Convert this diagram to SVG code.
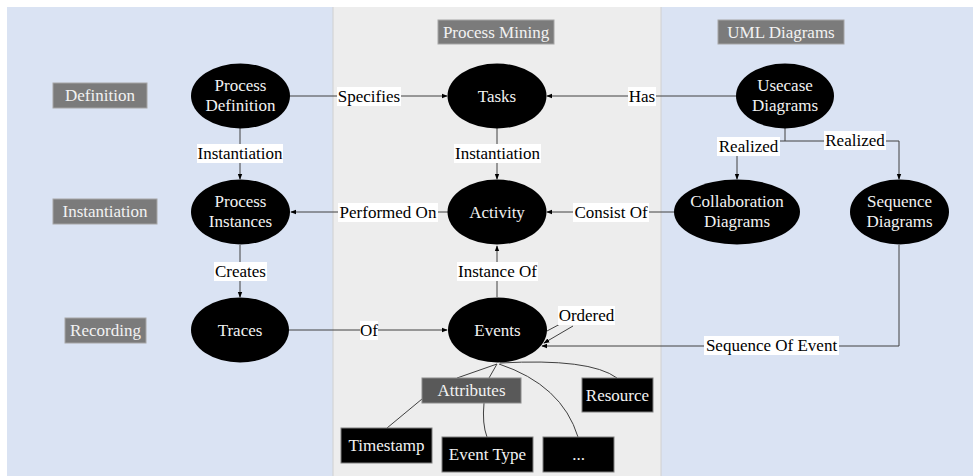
<svg xmlns="http://www.w3.org/2000/svg" width="973" height="476" viewBox="0 0 973 476" font-family="'Liberation Serif', 'DejaVu Serif', serif">
  <style>
    .lane-blue { fill: #dae3f3; }
    .lane-grey { fill: #ededed; }
    .lane-edge { stroke: #d0d0d0; stroke-width: 1; }
    .node ellipse { fill: #000; }
    text { font-family: 'Liberation Serif', 'DejaVu Serif', serif; font-size: 17px; text-anchor: middle; }
    .node text, .tag text, .attr text { fill: #f2f2f2; }
    .tag rect { fill: #7b7b7b; stroke: #a6a6a6; stroke-width: 1; }
    .attr rect { fill: #000; stroke: #7f7f7f; stroke-width: 1; }
    .edge { fill: none; stroke: #404040; stroke-width: 1; }
    .edge-label rect { fill: #fff; }
    .edge-label text { fill: #000; }
  </style>
  <defs>
    <marker id="arrow" viewBox="0 0 8 8" refX="7" refY="4" markerWidth="6" markerHeight="6" orient="auto" markerUnits="userSpaceOnUse">
      <path d="M0,1 L8,4 L0,7 z" fill="#000"/>
    </marker>
  </defs>

  <!-- swim lanes -->
  <g id="lanes">
    <rect x="0" y="0" width="973" height="476" fill="#fff"/>
    <rect class="lane-blue" x="7" y="7" width="326" height="469"/>
    <rect class="lane-grey" x="333" y="7" width="328" height="469"/>
    <rect class="lane-blue" x="661" y="7" width="312" height="469"/>
    <line class="lane-edge" x1="333" y1="7" x2="333" y2="476"/>
    <line class="lane-edge" x1="661" y1="7" x2="661" y2="476"/>
  </g>

  <!-- lane and row headings -->
  <g id="tag-process-mining" class="tag"><rect x="438" y="20" width="116" height="24"/><text x="496" y="38">Process Mining</text></g>
  <g id="tag-uml" class="tag"><rect x="718" y="20" width="126" height="24"/><text x="781" y="38">UML Diagrams</text></g>
  <g id="tag-definition" class="tag"><rect x="53" y="83" width="94" height="25"/><text x="100" y="101">Definition</text></g>
  <g id="tag-instantiation" class="tag"><rect x="53" y="199" width="104" height="25"/><text x="105" y="217">Instantiation</text></g>
  <g id="tag-recording" class="tag"><rect x="65" y="318" width="81" height="25"/><text x="105.5" y="336">Recording</text></g>

  <!-- connectors -->
  <g id="connectors">
    <line class="edge" x1="290" y1="96" x2="447" y2="96" marker-end="url(#arrow)"/>
    <line class="edge" x1="736" y1="96" x2="547" y2="96" marker-end="url(#arrow)"/>
    <line class="edge" x1="240" y1="128" x2="240" y2="179" marker-end="url(#arrow)"/>
    <line class="edge" x1="497" y1="128" x2="497" y2="179" marker-end="url(#arrow)"/>
    <line class="edge" x1="448" y1="212" x2="291" y2="212" marker-end="url(#arrow)"/>
    <line class="edge" x1="674" y1="212" x2="547" y2="212" marker-end="url(#arrow)"/>
    <line class="edge" x1="240" y1="245" x2="240" y2="297" marker-end="url(#arrow)"/>
    <line class="edge" x1="497" y1="297" x2="497" y2="246" marker-end="url(#arrow)"/>
    <line class="edge" x1="289" y1="330" x2="447" y2="330" marker-end="url(#arrow)"/>
    <polyline class="edge" points="785,128 785,141 737,141 737,179" marker-end="url(#arrow)"/>
    <polyline class="edge" points="785,141 899,141 899,179" marker-end="url(#arrow)"/>
    <polyline class="edge" points="899,245 899,346 542,346" marker-end="url(#arrow)"/>
    <polyline class="edge" points="547,331 562,323"/>
    <polyline class="edge" points="573,326 544,343" marker-end="url(#arrow)"/>
    <!-- event attribute links -->
    <path class="edge" d="M497,364 L457,378"/>
    <path class="edge" d="M497,364 L489,378"/>
    <path class="edge" d="M500,363 Q590,358 617,378"/>
    <path class="edge" d="M499,364 Q562,385 578,437"/>
    <path class="edge" d="M422,399 L387,428"/>
    <path class="edge" d="M484,403 Q482,424 487,437"/>
  </g>

  <!-- connector labels -->
  <g id="edge-labels">
    <g class="edge-label"><rect x="337" y="87" width="64" height="19"/><text x="369" y="102">Specifies</text></g>
    <g class="edge-label"><rect x="628" y="87" width="28" height="19"/><text x="642" y="102">Has</text></g>
    <g class="edge-label"><rect x="197" y="144" width="86" height="19"/><text x="240" y="159">Instantiation</text></g>
    <g class="edge-label"><rect x="454" y="144" width="87" height="19"/><text x="497.5" y="159">Instantiation</text></g>
    <g class="edge-label"><rect x="717" y="137" width="63" height="19"/><text x="748.5" y="152">Realized</text></g>
    <g class="edge-label"><rect x="824" y="131" width="62" height="19"/><text x="855" y="146">Realized</text></g>
    <g class="edge-label"><rect x="338" y="203" width="100" height="19"/><text x="388" y="218">Performed On</text></g>
    <g class="edge-label"><rect x="573" y="203" width="76" height="19"/><text x="611" y="218">Consist Of</text></g>
    <g class="edge-label"><rect x="214" y="262" width="53" height="19"/><text x="240.5" y="277">Creates</text></g>
    <g class="edge-label"><rect x="457" y="262" width="81" height="19"/><text x="497.5" y="277">Instance Of</text></g>
    <g class="edge-label"><rect x="360" y="321" width="18" height="19"/><text x="369" y="336">Of</text></g>
    <g class="edge-label"><rect x="558" y="306" width="57" height="19"/><text x="586.5" y="321">Ordered</text></g>
    <g class="edge-label"><rect x="704" y="336" width="135" height="19"/><text x="771.5" y="351">Sequence Of Event</text></g>
  </g>

  <!-- concept nodes -->
  <g id="node-process-definition" class="node"><ellipse cx="240.5" cy="96" rx="49.5" ry="32.5"/><text x="240.5" y="91">Process</text><text x="240.5" y="111">Definition</text></g>
  <g id="node-tasks" class="node"><ellipse cx="497" cy="96" rx="49.5" ry="32.5"/><text x="497" y="102">Tasks</text></g>
  <g id="node-usecase" class="node"><ellipse cx="785" cy="96" rx="49" ry="32.5"/><text x="785" y="91">Usecase</text><text x="785" y="111">Diagrams</text></g>
  <g id="node-process-instances" class="node"><ellipse cx="240.5" cy="212" rx="49.5" ry="32.5"/><text x="240.5" y="207">Process</text><text x="240.5" y="227">Instances</text></g>
  <g id="node-activity" class="node"><ellipse cx="497" cy="212" rx="49.5" ry="32.5"/><text x="497" y="218">Activity</text></g>
  <g id="node-collaboration" class="node"><ellipse cx="737" cy="212" rx="63" ry="32.5"/><text x="737" y="207">Collaboration</text><text x="737" y="227">Diagrams</text></g>
  <g id="node-sequence" class="node"><ellipse cx="899.5" cy="212" rx="49.5" ry="32.5"/><text x="899.5" y="207">Sequence</text><text x="899.5" y="227">Diagrams</text></g>
  <g id="node-traces" class="node"><ellipse cx="240" cy="330" rx="49" ry="32.5"/><text x="240" y="336">Traces</text></g>
  <g id="node-events" class="node"><ellipse cx="497.5" cy="330" rx="49.5" ry="32.5"/><text x="497.5" y="336">Events</text></g>

  <!-- event attributes -->
  <g id="node-attributes" class="tag"><rect x="422" y="378" width="99" height="25" style="fill:#595959;stroke:#8c8c8c"/><text x="471.5" y="396">Attributes</text></g>
  <g id="node-resource" class="attr"><rect x="582" y="378" width="71" height="34"/><text x="617.5" y="401">Resource</text></g>
  <g id="node-timestamp" class="attr"><rect x="341" y="428" width="91" height="35"/><text x="386.5" y="451">Timestamp</text></g>
  <g id="node-event-type" class="attr"><rect x="442" y="437" width="91" height="35"/><text x="487.5" y="460">Event Type</text></g>
  <g id="node-more" class="attr"><rect x="543" y="437" width="71" height="35"/><text x="578.5" y="460">...</text></g>
</svg>
